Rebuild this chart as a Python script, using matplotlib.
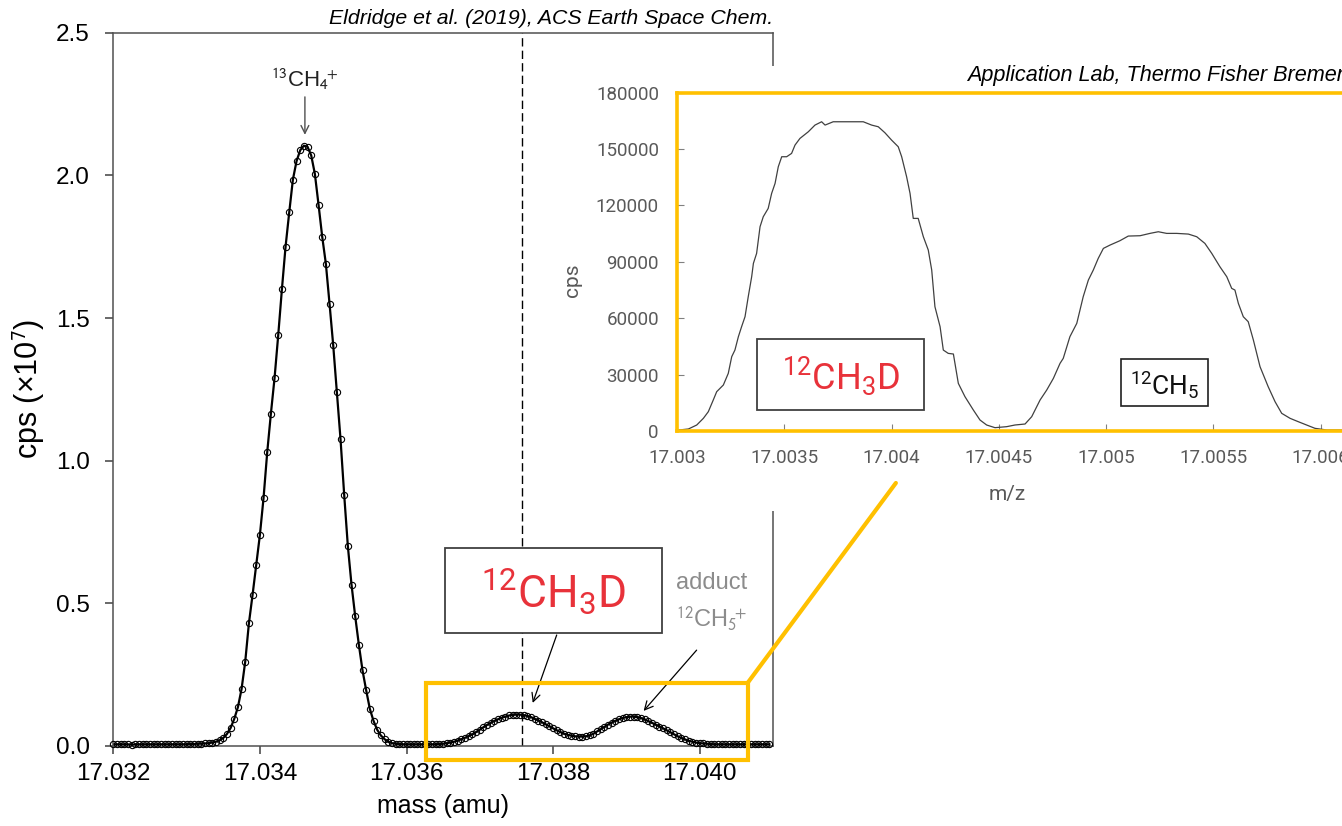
'''
    Composite: CH3D / CH5 mass scan (Eldridge et al. 2019) with the
    Thermo Fisher high-resolution scan as an inset
'''

# --
# dependancies

import numpy as np
import matplotlib
matplotlib.use('Agg')
import matplotlib.pyplot as plt
from matplotlib.patches import Rectangle, ConnectionPatch
from matplotlib.ticker import FormatStrFormatter

plt.rcParams['font.family'] = ['Liberation Sans', 'DejaVu Sans']
plt.rcParams['mathtext.fontset'] = 'custom'
plt.rcParams['mathtext.rm'] = 'Roboto'
plt.rcParams['mathtext.it'] = 'Roboto:italic'
plt.rcParams['mathtext.bf'] = 'Roboto:bold'


# --
# data: main scan, cps in units of 1e7, sampled every 0.05 mamu from 17.032

mass_start = 17.032
mass_step = 0.00005
cps_e7 = [
    0.006, 0.006, 0.006, 0.006, 0.006, 0.003, 0.006, 0.006, 0.006, 0.006,
    0.006, 0.006, 0.006, 0.006, 0.006, 0.006, 0.006, 0.006, 0.006, 0.006,
    0.006, 0.007, 0.007, 0.008, 0.008, 0.009, 0.010,
    0.012, 0.015, 0.020, 0.028, 0.042, 0.063, 0.095, 0.136, 0.200, 0.296,
    0.430, 0.530, 0.635, 0.740, 0.870, 1.030, 1.165, 1.290, 1.440, 1.600,
    1.750, 1.870, 1.985, 2.050, 2.088, 2.104, 2.100, 2.070, 2.005, 1.897,
    1.785, 1.690, 1.550, 1.405, 1.240, 1.075, 0.880, 0.700, 0.565, 0.455,
    0.355, 0.265, 0.195, 0.130, 0.088, 0.057, 0.037, 0.024, 0.015, 0.010,
    0.008, 0.007, 0.006, 0.006, 0.006, 0.006, 0.006, 0.006, 0.006, 0.006,
    0.006, 0.006,
    0.007, 0.008, 0.010, 0.012, 0.015, 0.019, 0.024, 0.029, 0.035, 0.041,
    0.049, 0.057, 0.066, 0.074, 0.081, 0.088, 0.094, 0.099, 0.103, 0.107,
    0.109, 0.110, 0.110, 0.108, 0.105, 0.101, 0.095, 0.089, 0.083, 0.076,
    0.069, 0.062, 0.055, 0.049, 0.043, 0.039, 0.036, 0.034, 0.033, 0.033,
    0.034, 0.037, 0.043, 0.051, 0.059, 0.067, 0.075, 0.082, 0.088, 0.094,
    0.098, 0.101, 0.103, 0.103, 0.101, 0.098, 0.093, 0.087, 0.081, 0.075,
    0.068, 0.062, 0.055, 0.048, 0.041, 0.034, 0.028, 0.023, 0.018, 0.015,
    0.012, 0.010, 0.009, 0.008, 0.007,
    0.006, 0.006, 0.006, 0.006, 0.006, 0.006, 0.006, 0.006, 0.006, 0.006,
    0.006, 0.006, 0.006, 0.006, 0.006, 0.006,
]
mass = mass_start + mass_step * np.arange(len(cps_e7))

x_ticks = [17.032, 17.034, 17.036, 17.038, 17.040]
y_ticks = [0.0, 0.5, 1.0, 1.5, 2.0, 2.5]
dashed_mass = 17.03758

# data: inset scan (Application Lab, Thermo Fisher Bremen)

mz = [
    17.003000, 17.003006, 17.003053, 17.003092, 17.003123, 17.003146,
    17.003169, 17.003185, 17.003216, 17.003239, 17.003255, 17.003270,
    17.003286, 17.003301, 17.003317, 17.003332, 17.003348, 17.003356,
    17.003371, 17.003387, 17.003402, 17.003425, 17.003441, 17.003457,
    17.003472, 17.003488, 17.003511, 17.003534, 17.003550, 17.003573,
    17.003612, 17.003643, 17.003674, 17.003690, 17.003728, 17.003791,
    17.003868, 17.003907, 17.003938, 17.003969, 17.004000, 17.004031,
    17.004047, 17.004070, 17.004086, 17.004101, 17.004124, 17.004148,
    17.004171, 17.004187, 17.004202, 17.004226, 17.004241, 17.004264,
    17.004288, 17.004311, 17.004342, 17.004381, 17.004412, 17.004443,
    17.004482, 17.004536, 17.004575, 17.004622, 17.004653, 17.004692,
    17.004723, 17.004754, 17.004785, 17.004800, 17.004831, 17.004863,
    17.004893, 17.004917, 17.004940, 17.004963, 17.004987, 17.005018,
    17.005064, 17.005103, 17.005158, 17.005204, 17.005243, 17.005282,
    17.005329, 17.005383, 17.005422, 17.005460, 17.005492, 17.005530,
    17.005562, 17.005585, 17.005600, 17.005616, 17.005639, 17.005662,
    17.005686, 17.005717, 17.005755, 17.005787, 17.005818, 17.005857,
    17.005895, 17.005934, 17.005973, 17.006028, 17.006150,
]
cps = [
    300, 500, 1060, 3190, 6750, 10280,
    16490, 20920, 24470, 30680, 39540, 43080,
    50170, 55490, 60810, 71450, 82090, 89180,
    94500, 108690, 114010, 118440, 126420, 131740,
    140610, 145930, 145930, 147700, 152140, 155680,
    159220, 162770, 164540, 162770, 164540, 164540,
    164540, 162770, 161880, 158680, 154780, 151240,
    145930, 135290, 126420, 113120, 113120, 103360,
    96270, 85640, 66130, 55490, 43080, 41300,
    40960, 25350, 18260, 11170, 5850, 3190,
    1770, 2300, 3190, 3720, 7620, 16490,
    21810, 28010, 35990, 38650, 50180, 57270,
    71460, 80320, 85640, 91840, 97160, 98930,
    101240, 103720, 103900, 105140, 106020, 105140,
    105140, 104780, 103360, 99820, 94500, 87410,
    82090, 75880, 75000, 67910, 60810, 58150,
    48400, 34220, 23580, 15600, 9400, 6740,
    4960, 3190, 1420, 530, 530,
]

inset_x_ticks = [17.003, 17.0035, 17.004, 17.0045, 17.005, 17.0055, 17.006]
inset_x_labels = ['17.003', '17.0035', '17.004', '17.0045', '17.005', '17.0055', '17.006']
inset_y_ticks = [0, 30000, 60000, 90000, 120000, 150000, 180000]


# --
# layout helpers (figure pixels, origin top-left)

W, H = 1342, 826

def fig_rect(left, top, right, bottom):
    return [left / W, 1 - bottom / H, (right - left) / W, (bottom - top) / H]

YELLOW = '#FFC000'
RED = '#E8323A'
GREY_TXT = '#595959'


fig = plt.figure(figsize=(W / 100, H / 100), dpi=100)


# --
# main axes

ax = fig.add_axes(fig_rect(113.3, 32.7, 773, 746))
ax.plot(mass, cps_e7, color='black', lw=1.6, zorder=2)
ax.plot(mass, cps_e7, 'o', ms=4.5, mfc='none', mec='black', mew=0.8,
        zorder=3, clip_on=False)
ax.axvline(dashed_mass, color='black', lw=1.0, ls=(0, (6, 3)), zorder=1)

ax.set_xlim(17.032, 17.041)
ax.set_ylim(0, 2.5)
ax.set_xticks(x_ticks)
ax.set_yticks(y_ticks)
ax.xaxis.set_major_formatter(FormatStrFormatter('%.3f'))
ax.yaxis.set_major_formatter(FormatStrFormatter('%.1f'))
ax.tick_params(direction='out', length=6, width=1.1, color='#404040',
               labelsize=17.5)
ax.tick_params(axis='x', pad=6)
ax.tick_params(axis='y', pad=11)
for s in ax.spines.values():
    s.set_color('#505050')
    s.set_linewidth(1.1)

ax.set_xlabel('mass (amu)', fontsize=18)
ax.xaxis.set_label_coords(0.5, -0.067)
ax.set_ylabel(r'cps (×10$^7$)', fontsize=22, math_fontfamily='stixsans')
ax.yaxis.set_label_coords(-0.1005, 0.5)

# 13CH4+ label
ax.annotate('', xy=(17.034614, 2.142), xytext=(17.034614, 2.275),
            arrowprops=dict(arrowstyle='->', color='#505050', lw=1.0,
                            shrinkA=0, shrinkB=0, mutation_scale=14))
ax.text(17.034614, 2.309, r'$^{13}$CH$_4{}^{\!\!+}$', fontsize=16,
        color='#222222', ha='center', va='baseline',
        math_fontfamily='stixsans')

# 12CH3D box
ax.add_patch(Rectangle((17.036522, 0.397), 0.002964, 0.297, fc='white',
                       ec='#404040', lw=1.3, zorder=4, clip_on=False))
ax.text(17.038001, 0.4837, r'$^{12}$CH$_3$D', family='Roboto', fontsize=32,
        color=RED, ha='center', va='baseline', zorder=5)

# adduct label
ax.text(17.039672, 0.550, 'adduct', fontsize=17, color='#8c8c8c',
        ha='left', va='baseline')
ax.text(17.039672, 0.4136, r'$^{12}$CH$_5{}^{\!\!+}$', fontsize=17,
        color='#8c8c8c', ha='left', va='baseline',
        math_fontfamily='stixsans')

arrow_kw = dict(arrowstyle='->', color='black', lw=0.9, shrinkA=0, shrinkB=0,
                mutation_scale=15)
ax.annotate('', xy=(17.037722, 0.151), xytext=(17.038049, 0.389),
            arrowprops=arrow_kw, zorder=6)
ax.annotate('', xy=(17.039235, 0.123), xytext=(17.039958, 0.336),
            arrowprops=arrow_kw, zorder=6)

# yellow zoom box
ax.add_patch(Rectangle((17.036263, -0.049), 0.00439, 0.2698, fill=False,
                       ec=YELLOW, lw=3, zorder=7, clip_on=False))


# --
# white backing for the inset image

bg = fig.add_axes(fig_rect(560, 66, 1350, 511), zorder=2)
bg.set_facecolor('white')
bg.set_xticks([])
bg.set_yticks([])
for s in bg.spines.values():
    s.set_visible(False)


# --
# inset axes

axin = fig.add_axes(fig_rect(677, 92.7, 1350.8, 431), zorder=3)
axin.plot(mz, cps, color='#404040', lw=0.9)
axin.set_xlim(17.003, 17.00614)
axin.set_ylim(0, 180000)
axin.set_xticks(inset_x_ticks)
axin.set_xticklabels(inset_x_labels)
axin.set_yticks(inset_y_ticks)
axin.set_yticklabels([str(v) for v in inset_y_ticks])
axin.tick_params(direction='in', length=5, width=0.8, color='#808080',
                 labelcolor=GREY_TXT, labelsize=13.5, pad=13)
for lbl in axin.get_xticklabels() + axin.get_yticklabels():
    lbl.set_family('Roboto')
for name in ['top', 'left', 'bottom']:
    axin.spines[name].set_color(YELLOW)
    axin.spines[name].set_linewidth(2.6)
axin.spines['right'].set_visible(False)

axin.set_xlabel('m/z', family='Roboto', fontsize=15, color=GREY_TXT)
axin.xaxis.set_label_coords(0.4898, -0.16)
axin.set_ylabel('cps', family='Roboto', fontsize=15, color=GREY_TXT)
axin.yaxis.set_label_coords(-0.141, 0.446)

axin.add_patch(Rectangle((17.003375, 11170), 0.000776, 38030, fc='white',
                         ec='#404040', lw=1.3, zorder=4))
axin.text(17.003764, 22200, r'$^{12}$CH$_3$D', family='Roboto', fontsize=26,
          color=RED, ha='center', va='baseline', zorder=5)
axin.add_patch(Rectangle((17.005069, 13300), 0.000404, 24840, fc='white',
                         ec='#202020', lw=1.2, zorder=4))
axin.text(17.005274, 19150, r'$^{12}$CH$_5$', family='Roboto', fontsize=19,
          color='#111111', ha='center', va='baseline', zorder=5)


# --
# connector between zoom box and inset, source notes

con = ConnectionPatch(xyA=(17.040653, 0.2208), coordsA=ax.transData,
                      xyB=(17.00402, -27660), coordsB=axin.transData,
                      color=YELLOW, lw=3, zorder=8)
fig.add_artist(con)

fig.text(773 / W, 1 - 24 / H, 'Eldridge et al. (2019), ACS Earth Space Chem.',
         fontsize=15.3, style='italic', ha='right', va='baseline', zorder=8)
fig.text(967 / W, 1 - 80.7 / H, 'Application Lab, Thermo Fisher Bremen',
         fontsize=15.6, style='italic', ha='left', va='baseline', zorder=8)

plt.savefig('out.png', dpi=100)
